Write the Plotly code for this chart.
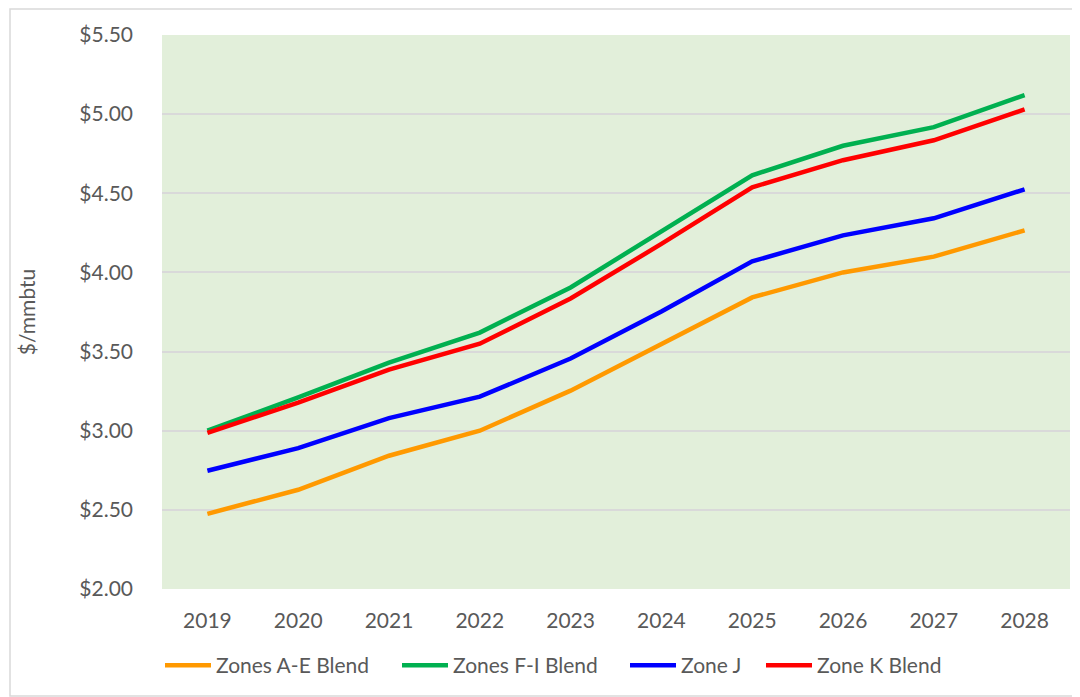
import plotly.graph_objects as go

years = ["2019", "2020", "2021", "2022", "2023", "2024", "2025", "2026", "2027", "2028"]
zones_ae = [2.475, 2.627, 2.842, 3.00, 3.253, 3.55, 3.842, 4.00, 4.10, 4.266]
zones_fi = [3.00, 3.21, 3.43, 3.62, 3.905, 4.26, 4.614, 4.80, 4.918, 5.12]
zone_j = [2.747, 2.89, 3.08, 3.215, 3.456, 3.753, 4.07, 4.234, 4.342, 4.525]
zone_k = [2.987, 3.177, 3.386, 3.55, 3.835, 4.18, 4.538, 4.709, 4.835, 5.03]
y_ticks = [2.0, 2.5, 3.0, 3.5, 4.0, 4.5, 5.0, 5.5]
y_labels = ["$2.00", "$2.50", "$3.00", "$3.50", "$4.00", "$4.50", "$5.00", "$5.50"]

series = [
    ("Zones A-E Blend", zones_ae, "#FF9900"),
    ("Zones F-I Blend", zones_fi, "#00B050"),
    ("Zone J", zone_j, "#0000FF"),
    ("Zone K Blend", zone_k, "#FF0000"),
]
# page x where each legend line starts
legend_starts = [163, 400, 628, 764]

OFF = 8  # default body margin of the page
W, H = 1080 - OFF, 697 - OFF
L, R, T, B = 162 - OFF, 1070 - OFF, 35 - OFF, 589 - OFF
pw, ph = R - L, B - T

font = "Lato, 'Open Sans', sans-serif"
txt = "#595959"
fs = 21

fig = go.Figure()
legends = {}
for i, ((name, vals, col), lx) in enumerate(zip(series, legend_starts)):
    key = "legend" if i == 0 else f"legend{i + 1}"
    fig.add_trace(go.Scatter(x=years, y=vals, mode="lines", name=name,
                             line=dict(color=col, width=4.5), legend=key))
    legends[key] = dict(orientation="h", x=(lx - OFF - 3 - L) / pw, xanchor="left",
                        y=-(645 - OFF - B) / ph, yanchor="top",
                        font=dict(size=fs, color=txt, family=font), itemwidth=46,
                        bgcolor="rgba(0,0,0,0)")

fig.update_layout(
    width=W, height=H,
    margin=dict(l=L, r=W - R, t=T, b=H - B, autoexpand=False),
    paper_bgcolor="white",
    plot_bgcolor="#E2EFDA",
    font=dict(family=font, size=fs, color=txt),
    showlegend=True,
    xaxis=dict(type="category", range=[-0.5, 9.5], showgrid=False, zeroline=False,
               showline=False, ticks="", ticklabelstandoff=17, automargin=False,
               tickfont=dict(size=fs, color=txt)),
    yaxis=dict(range=[2.0, 5.5], tickvals=y_ticks, ticktext=y_labels,
               showgrid=True, gridcolor="#D9D9D9", gridwidth=1.5, zeroline=False,
               showline=False, ticks="", ticklabelstandoff=28, automargin=False,
               title=dict(text="$/mmbtu", font=dict(size=fs, color=txt), standoff=37),
               tickfont=dict(size=fs, color=txt)),
    shapes=[dict(type="rect", xref="paper", yref="paper",
                 x0=(10 - OFF - L) / pw, x1=(1079 - OFF - L) / pw,
                 y0=(B - (696 - OFF)) / ph, y1=(B - (9 - OFF)) / ph,
                 line=dict(color="#D9D9D9", width=1.5), fillcolor="rgba(0,0,0,0)", layer="below")],
    **legends,
)

fig.write_html("out.html")
